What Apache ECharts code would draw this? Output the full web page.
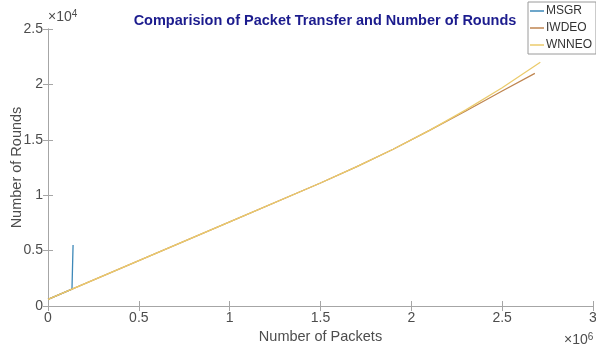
<!DOCTYPE html>
<html>
<head>
<meta charset="utf-8">
<script src="https://cdn.jsdelivr.net/npm/echarts@6/dist/echarts.min.js"></script>
<style>
  html, body { margin: 0; padding: 0; background: #fff; }
  #chart { width: 596px; height: 352px; }
</style>
</head>
<body>
<div id="chart"></div>
<script>
// Packets transferred (x) vs. rounds completed (y) for each protocol
const seriesNames = ['MSGR', 'IWDEO', 'WNNEO'];

const msgrPackets = [0, 132000, 138000];
const msgrRounds  = [600, 1530, 5500];

const iwdeoPackets = [0, 500000, 1000000, 1500000, 1700000, 1900000, 2100000, 2300000, 2500000, 2680000];
const iwdeoRounds  = [600, 4100, 7600, 11100, 12580, 14150, 15850, 17600, 19400, 21000];

const wnneoPackets = [0, 500000, 1000000, 1500000, 1700000, 1900000, 2100000, 2300000, 2500000, 2710000];
const wnneoRounds  = [600, 4100, 7600, 11100, 12580, 14150, 15850, 17700, 19700, 22000];

const xTickLabels = ['0', '0.5', '1', '1.5', '2', '2.5', '3'];
const yTickLabels = ['0', '0.5', '1', '1.5', '2', '2.5'];

const colors = ['#3d88b8', '#bf8550', '#ebcb6c'];
const font = 'Liberation Sans, Arial, sans-serif';
const axisGray = '#a6a6a6';
const labelGray = '#4d4d4d';

function pairs(xs, ys) { return xs.map((x, i) => [x, ys[i]]); }

const grid = { left: 48, right: 3, top: 29, bottom: 46, containLabel: false, outerBoundsMode: 'none' };

const chart = echarts.init(document.getElementById('chart'));
chart.setOption({
  backgroundColor: '#fff',
  animation: false,
  color: colors,
  title: {
    text: 'Comparision of Packet Transfer and Number of Rounds',
    left: 320, top: 8, textAlign: 'center',
    textStyle: { fontFamily: font, fontSize: 14.5, fontWeight: 'bold', color: '#1c1c8e' }
  },
  legend: {
    orient: 'vertical',
    left: 528, top: 2,
    data: seriesNames,
    icon: 'rect',
    itemWidth: 14, itemHeight: 1.5,
    itemGap: 5,
    padding: [3, 4, 3, 2],
    borderColor: '#9a9a9a', borderWidth: 1,
    backgroundColor: '#fff',
    textStyle: { fontFamily: font, fontSize: 12, color: '#333', padding: [0, 0, 0, -3] }
  },
  grid: grid,
  xAxis: [{
    type: 'value', min: 0, max: 3000000, interval: 500000,
    position: 'bottom',
    name: 'Number of Packets', nameLocation: 'middle', nameGap: 23, nameMoveOverlap: false,
    nameTextStyle: { fontFamily: font, fontSize: 14.5, color: labelGray },
    axisLine: { lineStyle: { color: axisGray } },
    axisTick: { inside: true, length: 5, lineStyle: { color: axisGray } },
    axisLabel: {
      fontFamily: font, fontSize: 14, color: labelGray, margin: 5,
      formatter: v => xTickLabels[Math.round(v / 500000)]
    },
    splitLine: { show: false }
  }, {
    type: 'value', min: 0, max: 3000000, interval: 500000,
    position: 'top',
    axisLine: { lineStyle: { color: axisGray } },
    axisTick: { inside: true, length: 5, lineStyle: { color: axisGray } },
    axisLabel: { show: false },
    splitLine: { show: false }
  }],
  yAxis: [{
    type: 'value', min: 0, max: 25000, interval: 5000,
    position: 'left',
    name: 'Number of Rounds', nameLocation: 'middle', nameGap: 24, nameMoveOverlap: false,
    nameTextStyle: { fontFamily: font, fontSize: 14.5, color: labelGray },
    axisLine: { show: true, lineStyle: { color: axisGray } },
    axisTick: { show: true, inside: true, length: 5, lineStyle: { color: axisGray } },
    axisLabel: {
      fontFamily: font, fontSize: 14, color: labelGray, margin: 5,
      formatter: v => yTickLabels[Math.round(v / 5000)]
    },
    splitLine: { show: false }
  }, {
    type: 'value', min: 0, max: 25000, interval: 5000,
    position: 'right',
    axisLine: { show: true, lineStyle: { color: axisGray } },
    axisTick: { show: true, inside: true, length: 5, lineStyle: { color: axisGray } },
    axisLabel: { show: false },
    splitLine: { show: false }
  }],
  graphic: [{
    type: 'text', left: 48, top: 9,
    style: {
      text: '×10{s|4}',
      rich: { s: { fontFamily: font, fontSize: 10, color: labelGray, verticalAlign: 'top', padding: [0, 0, 7, 0] } },
      fontFamily: font, fontSize: 14, fill: labelGray
    }
  }, {
    type: 'text', left: 564, top: 332,
    style: {
      text: '×10{s|6}',
      rich: { s: { fontFamily: font, fontSize: 10, color: labelGray, verticalAlign: 'top', padding: [0, 0, 7, 0] } },
      fontFamily: font, fontSize: 14, fill: labelGray
    }
  }],
  series: [
    { name: seriesNames[0], type: 'line', symbol: 'none', data: pairs(msgrPackets, msgrRounds),
      lineStyle: { width: 1.3 } },
    { name: seriesNames[1], type: 'line', symbol: 'none', data: pairs(iwdeoPackets, iwdeoRounds),
      lineStyle: { width: 1.3 } },
    { name: seriesNames[2], type: 'line', symbol: 'none', data: pairs(wnneoPackets, wnneoRounds),
      lineStyle: { width: 1.3 } }
  ]
});
</script>
</body>
</html>
